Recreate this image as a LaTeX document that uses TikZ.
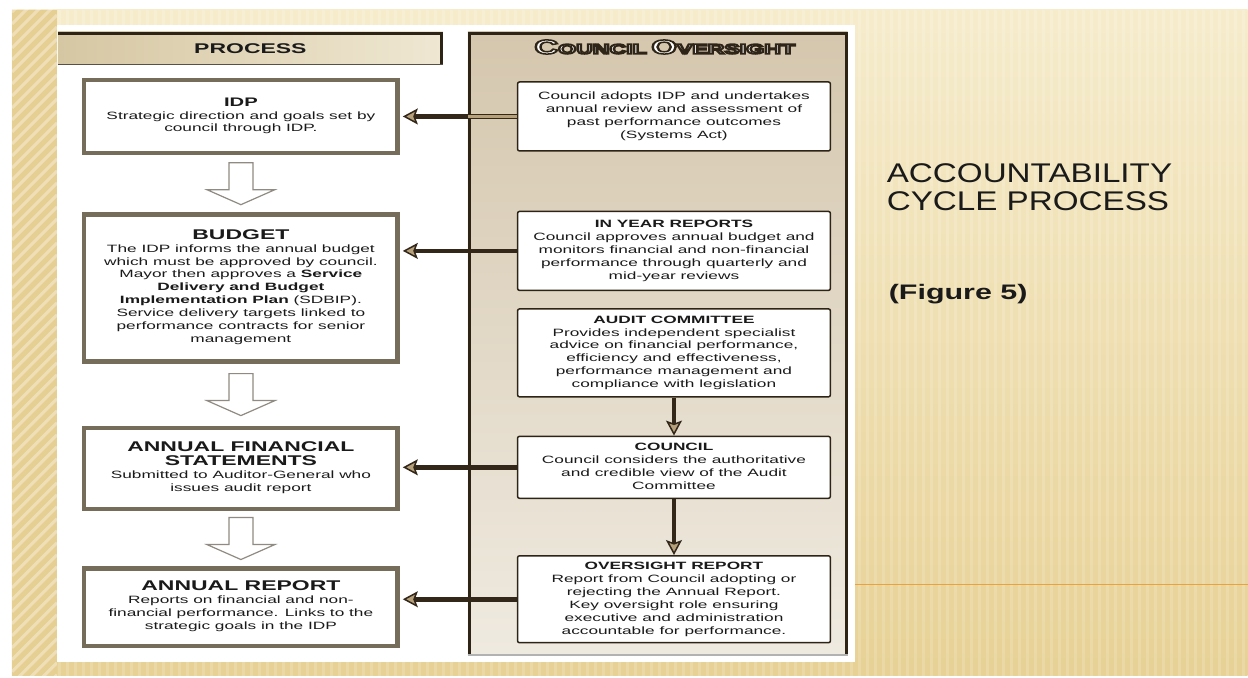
\documentclass[tikz,border=0pt]{standalone}
\usepackage{fontspec}
\setmainfont{Liberation Sans}
\usepackage{graphicx}
\usepackage{array}
\usetikzlibrary{arrows.meta,positioning,calc}

\definecolor{bgtop}{HTML}{F6ECCC}
\definecolor{bgbottom}{HTML}{E7D195}
\definecolor{bgstrip}{HTML}{E6CF92}
\definecolor{hdrleft}{HTML}{D6C7A3}
\definecolor{hdrright}{HTML}{EFE7D2}
\definecolor{paneltop}{HTML}{D5C7AE}
\definecolor{panelbottom}{HTML}{EFEAE0}
\definecolor{panelline}{HTML}{2E2416}
\definecolor{boxedge}{HTML}{756D59}
\definecolor{arrowdark}{HTML}{33271A}
\definecolor{arrowtan}{HTML}{B5A07A}
\definecolor{hollowedge}{HTML}{8F8B82}
\definecolor{inktext}{HTML}{1A1A1A}
\definecolor{rulecol}{HTML}{E9A23E}

\newcommand{\bodyfont}{\fontsize{10.6}{12.9}\selectfont}
\newcommand{\headfont}{\fontsize{14.1}{16}\selectfont\bfseries}
\newcommand{\hd}[1]{{\headfont #1}}
\newcolumntype{C}{>{\bodyfont}c}
% box texts are stretched sideways like the reference
\newcommand{\proctext}[1]{\scalebox{1.63}[1]{\bodyfont\begin{tabular}{@{}C@{}}#1\end{tabular}}}
\newcommand{\capbig}{\fontsize{20}{21}\selectfont\bfseries}
\newcommand{\capsmall}{\fontsize{14}{21}\selectfont\bfseries}
% white letters with a dark outline
\newcommand{\outlineword}[1]{{\color{white}\special{pdf:literal direct 0.18 0.14 0.09 RG 1.5 w 2 Tr}#1\special{pdf:literal direct 0 Tr}}}

\begin{document}
\begin{tikzpicture}[x=1pt,y=-1pt,
    procbox/.style={draw=boxedge, line width=4.5pt, fill=white, text=inktext, minimum width=313.5pt, inner sep=0pt},
    overbox/.style={draw=panelline, line width=1.5pt, fill=white, text=inktext, rounded corners=2pt, minimum width=313pt, inner sep=0pt},
    hdrbar/.style={left color=hdrleft, right color=hdrright, text=inktext, minimum width=385pt, minimum height=33pt, inner sep=0pt},
    panelbox/.style={top color=paneltop, bottom color=panelbottom, minimum width=380pt, minimum height=623pt, inner sep=0pt},
    darrow/.style={draw=arrowdark, line width=4.5pt, shorten >=3pt, -{Stealth[length=15pt,width=16pt,inset=3pt,line width=1.5pt,fill=arrowtan]}},
    hollow/.style={draw=hollowedge, line width=1.2pt, fill=white, line join=miter},
    pics/blockdown/.style={code={
      \draw[hollow] (-12pt,21pt) -- (12pt,21pt) -- (12pt,-6pt) -- (34pt,-6pt) -- (0pt,-21pt) -- (-34pt,-6pt) -- (-12pt,-6pt) -- cycle;}}
]
% slide background
\fill[white] (0,0) rectangle (1248,676);
\shade[top color=bgtop, bottom color=bgbottom] (12,10) rectangle (1248,676);
\foreach \x in {60,68,...,1248}
  \draw[white, opacity=0.16, line width=3pt] (\x,10) -- (\x,676);
\begin{scope}
  \clip (12,10) rectangle (57,676);
  \fill[bgstrip] (12,10) rectangle (57,676);
  \foreach \y in {0,12,...,730}
    \draw[white, opacity=0.35, line width=3pt] (12,\y) -- (57,\y-45);
\end{scope}
\draw[rulecol, line width=1pt] (855,585) -- (1248,585);
\fill[white] (57,25) rectangle (855,662);

% column headers
\node[hdrbar] (process) at (250.5,48.5) {\scalebox{1.63}[1]{\hd{PROCESS}}};
\draw[panelline, line width=3pt] ([yshift=-1.5pt]process.north west) -- ([xshift=-1.5pt,yshift=-1.5pt]process.north east) -- ([xshift=-1.5pt]process.south east);
\draw[panelline!80, line width=1.2pt] ([yshift=0.6pt]process.south west) -- ([yshift=0.6pt]process.south east);

\node[panelbox] (panel) at (658,343.5) {};
\draw[panelline, line width=3pt] ([xshift=1.5pt]panel.south west) -- ([xshift=1.5pt,yshift=-1.5pt]panel.north west) -- ([xshift=-1.5pt,yshift=-1.5pt]panel.north east) -- ([xshift=-1.5pt]panel.south east);
\draw[gray!60, line width=1.5pt] (panel.south west) -- (panel.south east);
\node (council) at (665,47) {\scalebox{1.65}[1]{\outlineword{{\capbig C}{\capsmall OUNCIL} {\capbig O}{\capsmall VERSIGHT}}}};

% process column
\node[procbox, minimum height=73pt] (idp) at (241,116.5) {\proctext{{\fontsize{12.4}{15}\selectfont\bfseries IDP}\\Strategic direction and goals set by\\council through IDP.}};
\node[procbox, minimum height=147pt, below=57pt of idp] (budget) {\proctext{\hd{BUDGET}\\The IDP informs the annual budget\\which must be approved by council.\\Mayor then approves a \textbf{Service}\\\textbf{Delivery and Budget}\\\textbf{Implementation Plan} (SDBIP).\\Service delivery targets linked to\\performance contracts for senior\\management}};
\node[procbox, minimum height=81pt, below=62pt of budget] (afs) {\proctext{\hd{ANNUAL FINANCIAL}\\\hd{STATEMENTS}\\Submitted to Auditor-General who\\issues audit report}};
\node[procbox, minimum height=78pt, below=55pt of afs] (report) {\proctext{\hd{ANNUAL REPORT}\\Reports on financial and non-\\financial performance. Links to the\\strategic goals in the IDP}};

% oversight column
\node[overbox, minimum height=69pt, right=117pt of idp] (adopt) {\proctext{Council adopts IDP and undertakes\\annual review and assessment of\\past performance outcomes\\(Systems Act)}};
\node[overbox, minimum height=79pt, below=59pt of adopt] (inyear) {\proctext{\textbf{IN YEAR REPORTS}\\Council approves annual budget and\\monitors financial and non-financial\\performance through quarterly and\\mid-year reviews}};
\node[overbox, minimum height=88pt, below=17pt of inyear] (audit) {\proctext{\textbf{AUDIT COMMITTEE}\\Provides independent specialist\\advice on financial performance,\\efficiency and effectiveness,\\performance management and\\compliance with legislation}};
\node[overbox, minimum height=62pt, below=38pt of audit] (councilview) {\proctext{\textbf{COUNCIL}\\Council considers the authoritative\\and credible view of the Audit\\Committee}};
\node[overbox, minimum height=87pt, below=56pt of councilview] (oversight) {\proctext{\textbf{OVERSIGHT REPORT}\\Report from Council adopting or\\rejecting the Annual Report.\\Key oversight role ensuring\\executive and administration\\accountable for performance.}};

% hollow flow arrows
\pic at ($(idp.south)!0.5!(budget.north)$) {blockdown};
\pic at ($(budget.south)!0.5!(afs.north)$) {blockdown};
\pic at ($(afs.south)!0.5!(report.north)$) {blockdown};

% oversight arrows
\draw[darrow] (adopt.west) -- (idp.east);
\draw[arrowtan, line width=2.5pt] (adopt.west) -- (adopt.west -| panel.west);
\draw[darrow] (inyear.west) -- (inyear.west -| budget.east);
\draw[darrow] (councilview.west) -- (councilview.west -| afs.east);
\draw[darrow] (oversight.west) -- (oversight.west -| report.east);
\draw[darrow, shorten >=0pt] (audit.south) -- (councilview.north);
\draw[darrow, shorten >=0pt] (councilview.south) -- (oversight.north);

% slide title
\node[anchor=north west, inner sep=0pt, text=inktext] (title) at (887,162.4) {\scalebox{1.23}[1]{\fontsize{27}{28}\selectfont\begin{tabular}{@{}l@{}}ACCOUNTABILITY\\CYCLE PROCESS\end{tabular}}};
\node[anchor=base west, inner sep=0pt, text=inktext] (figref) at (889,300) {\scalebox{1.45}[1]{\fontsize{21}{24}\selectfont\bfseries (Figure 5)}};
\end{tikzpicture}
\end{document}
